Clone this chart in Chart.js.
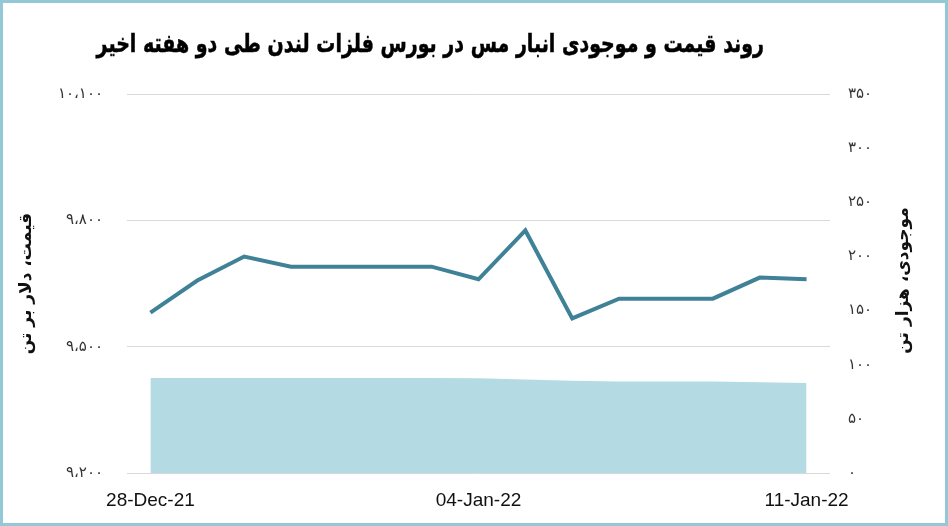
<!DOCTYPE html>
<html>
<head>
<meta charset="utf-8">
<script src="https://cdn.jsdelivr.net/npm/chart.js@4"></script>
<style>
    html, body { margin: 0; padding: 0; background: #fff; }
    #box {
        position: relative;
        width: 948px;
        height: 526px;
        box-sizing: border-box;
        border: 3px solid #93c9d6;
        overflow: hidden;
    }
    #title {
        position: absolute;
        left: 99px;
        top: 29px;
        width: 662px;
        text-align: center;
        direction: rtl;
        font-family: "DejaVu Sans", sans-serif;
        font-weight: bold;
        font-size: 19px;
        color: #000;
        white-space: nowrap;
        transform: scale(1, 1.35);
        -webkit-text-stroke: 0.4px #000;
    }
    #wrap { position: absolute; left: -3px; top: -3px; width: 948px; height: 526px; }
</style>
</head>
<body>
<div id="box">
    <div id="wrap"><canvas id="copperChart" width="948" height="526"></canvas></div>
    <div id="title">روند قیمت و موجودی انبار مس در بورس فلزات لندن طی دو هفته اخیر</div>
</div>
<script>
// 日期 (每日, 含週末)
let dates = ['28-Dec-21', '29-Dec-21', '30-Dec-21', '31-Dec-21', '01-Jan-22', '02-Jan-22', '03-Jan-22',
    '04-Jan-22', '05-Jan-22', '06-Jan-22', '07-Jan-22', '08-Jan-22', '09-Jan-22', '10-Jan-22', '11-Jan-22']
let shownDates = ['28-Dec-21', '04-Jan-22', '11-Jan-22']

// 價格 (دلار بر تن)
let price = [9581, 9657, 9714, 9690, 9690, 9690, 9690, 9660, 9776, 9567, 9614, 9614, 9614, 9664, 9660]
// 庫存 (هزار تن)
let stock = [87.7, 87.7, 87.8, 87.7, 87.7, 87.7, 87.7, 87.6, 86.3, 85.2, 84.5, 84.5, 84.5, 83.8, 83.1]

let priceTitle = 'قیمت، دلار بر تن'
let stockTitle = 'موجودی، هزار تن'

// 轉波斯數字
function toFa(n) {
    const digits = '۰۱۲۳۴۵۶۷۸۹'
    let s = String(Math.round(n))
    if (s.length > 3) s = s.slice(0, s.length - 3) + ',' + s.slice(-3)
    return s.replace(/[0-9]/g, d => digits[d]).replace(',', '،')
}

// 右側標題 (逆時針旋轉)
const rightTitle = {
    id: 'rightTitle',
    afterDraw(chart) {
        const ctx = chart.ctx
        const area = chart.chartArea
        ctx.save()
        ctx.translate(904, (area.top + area.bottom) / 2 - 3)
        ctx.rotate(-Math.PI / 2)
        ctx.font = 'bold 17px "DejaVu Sans"'
        ctx.fillStyle = '#111'
        ctx.textAlign = 'center'
        ctx.textBaseline = 'middle'
        ctx.direction = 'rtl'
        ctx.fillText(stockTitle, 0, 0)
        ctx.restore()
    }
}

var tickFont = { family: '"DejaVu Sans"', size: 15 }

var ctx = document.getElementById('copperChart').getContext('2d')
var copperChart = new Chart(ctx, {
    type: 'line',
    data: {
        labels: dates,
        datasets: [
            {
                label: 'price',
                data: price,
                yAxisID: 'y',
                borderColor: '#3f8297',
                backgroundColor: 'transparent',
                borderWidth: 4,
                pointRadius: 0,
                tension: 0,
                order: 1
            },
            {
                label: 'stock',
                data: stock,
                yAxisID: 'y1',
                borderColor: '#b4dbe4',
                backgroundColor: '#b4dbe4',
                borderWidth: 0,
                pointRadius: 0,
                fill: 'origin',
                tension: 0,
                order: 2
            }
        ]
    },
    options: {
        responsive: false,
        animation: false,
        devicePixelRatio: 1,
        layout: { padding: { left: 16, right: 0, top: 94, bottom: 0 } },
        plugins: {
            legend: { display: false },
            tooltip: { enabled: false }
        },
        scales: {
            x: {
                offset: true,
                border: { display: false },
                grid: { display: false, drawTicks: false },
                ticks: {
                    autoSkip: false,
                    maxRotation: 0,
                    padding: 16,
                    color: '#111',
                    font: { family: '"Liberation Sans"', size: 19 },
                    callback: function (value, index) {
                        let d = dates[index]
                        return shownDates.includes(d) ? d : ''
                    }
                },
                afterFit(scale) { scale.height = 53 }
            },
            y: {
                position: 'left',
                min: 9200,
                max: 10100,
                border: { display: false },
                grid: { color: '#d9d9d9', drawTicks: false },
                ticks: {
                    stepSize: 300,
                    padding: 24,
                    color: '#333',
                    font: tickFont,
                    callback: v => toFa(v)
                },
                title: {
                    display: true,
                    text: priceTitle,
                    color: '#111',
                    padding: 0,
                    font: { family: '"DejaVu Sans"', size: 17, weight: 'bold' }
                },
                afterFit(scale) { scale.width = 111 }
            },
            y1: {
                position: 'right',
                min: 0,
                max: 350,
                border: { display: false },
                grid: { display: false, drawTicks: false },
                ticks: {
                    stepSize: 50,
                    padding: 18,
                    color: '#333',
                    font: tickFont,
                    callback: v => toFa(v)
                },
                afterFit(scale) { scale.width = 118 }
            }
        }
    },
    plugins: [rightTitle]
})
</script>
</body>
</html>
